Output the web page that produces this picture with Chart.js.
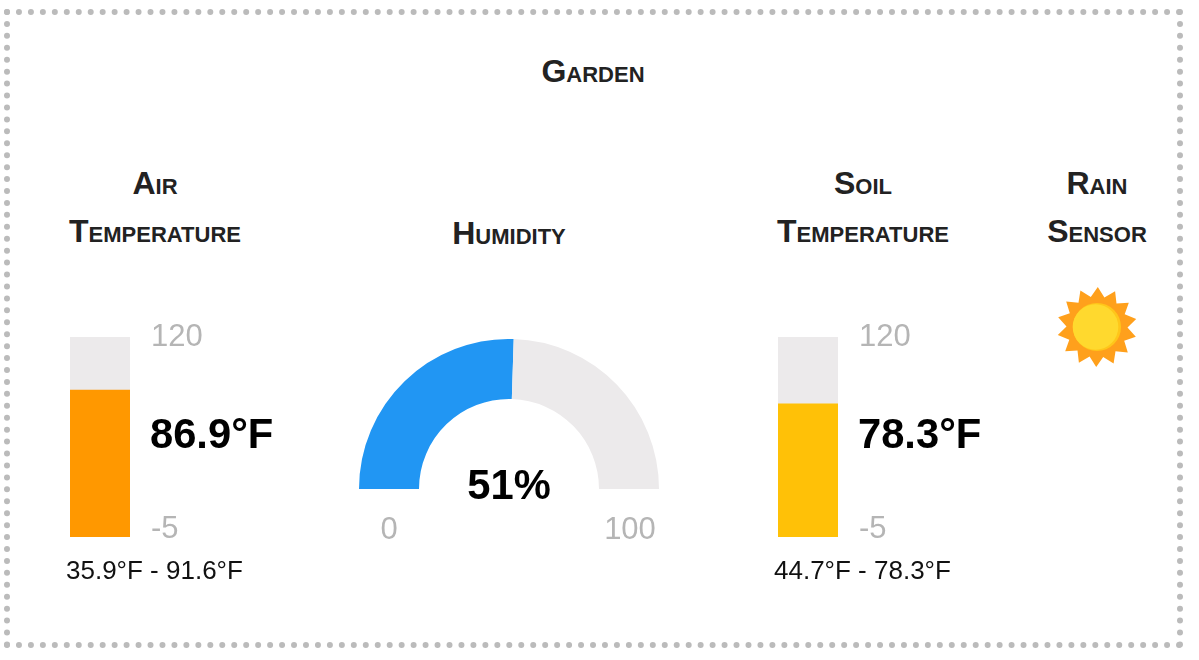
<!DOCTYPE html>
<html>
<head>
<meta charset="utf-8">
<script src="https://cdn.jsdelivr.net/npm/chart.js@4"></script>
<style>
html,body{margin:0;padding:0;background:#fff;width:1199px;height:660px;overflow:hidden;font-family:"Liberation Sans",Arial,sans-serif}
#frame{position:absolute;left:4px;top:9px;width:1167px;height:627px;border:6px dotted #bbb}
canvas{position:absolute}
.t{position:absolute;white-space:nowrap;transform:translate(-50%,-50%);line-height:1}
.l{position:absolute;white-space:nowrap;transform:translateY(-50%);line-height:1}
.h{font-weight:bold;font-variant:small-caps;font-size:32px;color:#222}
.big{font-weight:bold;font-size:41.7px;color:#000}
.rng{font-size:26px;color:#111}
.tick{font-size:31px;color:#b5b5b5}
#sun{position:absolute;left:1047px;top:277px}
</style>
</head>
<body>
<div id="frame"></div>
<canvas id="airBar" style="left:70px;top:307px" width="200" height="250"></canvas>
<canvas id="soilBar" style="left:778px;top:307px" width="200" height="250"></canvas>
<canvas id="humGauge" style="left:359px;top:339px" width="300" height="150"></canvas>
<svg id="sun" width="100" height="100" viewBox="0 0 100 100"></svg>
<script>
const chartTitle = "Garden";
const titles = ["Air", "Temperature", "Humidity", "Soil", "Temperature", "Rain", "Sensor"];
const tempRange = [-5, 120];
const airValue = 86.9;
const airLow = 35.9;
const airHigh = 91.6;
const soilValue = 78.3;
const soilLow = 44.7;
const soilHigh = 78.3;
const humidityValue = 51;
const humidityRange = [0, 100];
const colors = {track:"#ECEAEB", air:"#FF9800", soil:"#FFC107", hum:"#2196F3"};

function put(cls, text, x, y){
  const d = document.createElement("div");
  d.className = cls; d.textContent = text;
  d.style.left = x + "px"; d.style.top = y + "px";
  document.body.appendChild(d);
}
put("t h", chartTitle, 593, 71);
put("t h", titles[0], 155, 183);
put("t h", titles[1], 155, 231);
put("t h", titles[2], 509, 233);
put("t h", titles[3], 863, 183);
put("t h", titles[4], 863, 231);
put("t h", titles[5], 1097, 183);
put("t h", titles[6], 1097, 231);

function bar(id, value, color){
  new Chart(document.getElementById(id), {
    type: "bar",
    data: {
      labels: ["value"],
      datasets: [
        {data: [[tempRange[0], value]], backgroundColor: color, barPercentage: 1, categoryPercentage: 1, grouped: false, order: 1},
        {data: [[value, tempRange[1]]], backgroundColor: colors.track, barPercentage: 1, categoryPercentage: 1, grouped: false, order: 2}
      ]
    },
    options: {
      responsive: false, animation: false, devicePixelRatio: 1,
      layout: {padding: {top: 30, bottom: 20, left: 0, right: 0}},
      plugins: {legend: {display: false}, tooltip: {enabled: false}},
      scales: {
        x: {display: false},
        y: {
          position: "right", min: tempRange[0], max: tempRange[1],
          grid: {display: false, drawTicks: false}, border: {display: false},
          afterBuildTicks: s => { s.ticks = tempRange.map(v => ({value: v})); },
          afterFit: s => { s.width = 140; s.paddingTop = 0; s.paddingBottom = 0; },
          ticks: {
            padding: 21, color: "#b5b5b5", autoSkip: false, maxRotation: 0,
            font: {family: '"Liberation Sans"', size: 31, lineHeight: "16px"},
            callback: v => v === tempRange[0] ? [String(v), ""] : String(v)
          }
        }
      }
    }
  });
}
bar("airBar", airValue, colors.air);
bar("soilBar", soilValue, colors.soil);

new Chart(document.getElementById("humGauge"), {
  type: "doughnut",
  data: {
    labels: ["Humidity", "Rest"],
    datasets: [{
      data: [humidityValue, humidityRange[1] - humidityValue],
      backgroundColor: [colors.hum, colors.track], borderWidth: 0
    }]
  },
  options: {
    responsive: false, animation: false, devicePixelRatio: 1,
    rotation: -90, circumference: 180, cutout: "60%",
    plugins: {legend: {display: false}, tooltip: {enabled: false}}
  }
});

put("l big", airValue.toFixed(1) + "°F", 150, 434);
put("l big", soilValue.toFixed(1) + "°F", 858, 434);
put("t big", humidityValue + "%", 509, 485);
put("t tick", humidityRange[0], 389, 528);
put("t tick", humidityRange[1], 630, 528);
put("l rng", airLow.toFixed(1) + "°F - " + airHigh.toFixed(1) + "°F", 66, 570);
put("l rng", soilLow.toFixed(1) + "°F - " + soilHigh.toFixed(1) + "°F", 774, 570);

// sun icon
(function(){
  const spikes = 14, cx = 50, cy = 50, R = 40, r = 30.5, turn = 0.02, pts = [];
  for (let i = 0; i < spikes * 2; i++){
    const a = -Math.PI / 2 + turn + i * Math.PI / spikes, q = i % 2 ? r : R;
    pts.push((cx + q * Math.cos(a)).toFixed(1) + "," + (cy + q * Math.sin(a)).toFixed(1));
  }
  document.getElementById("sun").innerHTML =
    '<polygon points="' + pts.join(" ") + '" fill="#FFA01C"/>' +
    '<circle cx="50" cy="50" r="24" fill="#FFC61A"/>' +
    '<circle cx="48.5" cy="50" r="22.8" fill="#FFD92E"/>';
})();
</script>
</body>
</html>
